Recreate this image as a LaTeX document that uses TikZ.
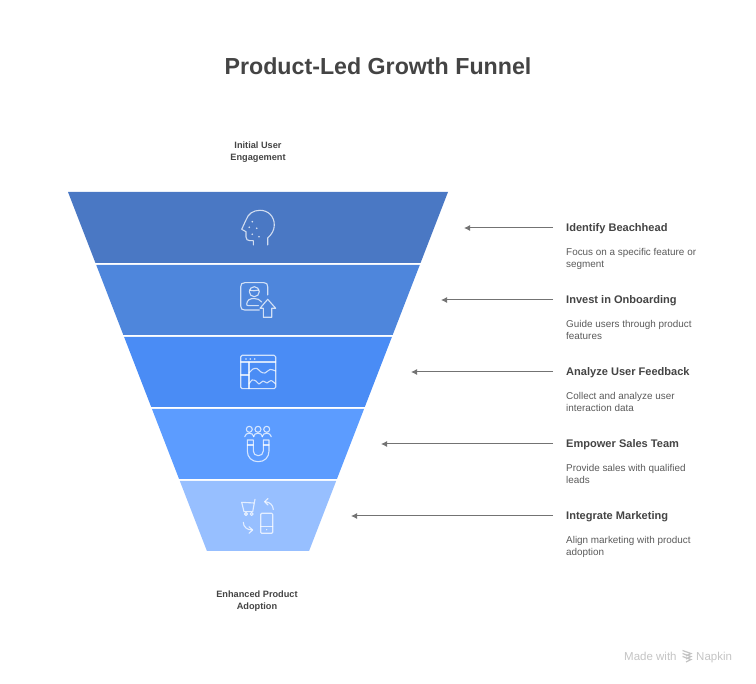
\documentclass[tikz,border=0pt]{standalone}
\usepackage{fontspec}
\setmainfont{Liberation Sans}
\usetikzlibrary{arrows.meta}
\definecolor{inktitle}{HTML}{444444}
\definecolor{inkbody}{HTML}{5A5A5A}
\definecolor{inkmark}{HTML}{C4C4C4}
\definecolor{bandone}{HTML}{4A78C4}
\definecolor{bandtwo}{HTML}{4E86DC}
\definecolor{bandthree}{HTML}{4A8CF5}
\definecolor{bandfour}{HTML}{5C9CFF}
\definecolor{bandfive}{HTML}{97BFFF}
\tikzset{
    funnel title/.style={
        font=\bfseries\fontsize{23.2}{28}\selectfont,
        text=inktitle,
        inner sep=0,
    },
    end label/.style={
        font=\bfseries\fontsize{9.2}{12.3}\selectfont,
        text=inktitle,
        align=center,
        inner sep=0,
    },
    step title/.style={
        font=\bfseries\fontsize{11.05}{14}\selectfont,
        text=inktitle,
        anchor=west,
        inner sep=0,
    },
    step text/.style={
        font=\fontsize{9.9}{12}\selectfont,
        text=inkbody,
        anchor=north west,
        align=left,
        inner sep=0,
    },
    pointer/.style={
        draw=black!55,
        line width=1pt,
        -{Latex[length=6pt,width=6pt]},
    },
    icon line/.style={
        draw=white,
        draw opacity=0.75,
        line width=1.1pt,
        line cap=round,
        line join=round,
    },
    icon dot/.style={
        fill=white,
        fill opacity=0.8,
    },
    footer text/.style={
        font=\fontsize{11.5}{13}\selectfont,
        text=inkmark,
        anchor=base west,
        inner sep=0,
    },
}

\begin{document}
\begin{tikzpicture}[x=1pt,y=-1pt]
    \useasboundingbox (0,0) rectangle (756,684);

    \node[funnel title] (title) at (378,66) {Product-Led Growth Funnel};
    \node[end label] (top label) at (258,152) {Initial User\\Engagement};
    \node[end label] (bottom label) at (257,601) {Enhanced Product\\Adoption};

    % funnel bands
    \foreach \ytop/\ybot/\colr in {192/263/bandone,265/335/bandtwo,337/407/bandthree,409/479/bandfour,481/551/bandfive}
    {
        \fill[\colr] ({68+0.387*(\ytop-192)}, \ytop) -- ({448-0.387*(\ytop-192)}, \ytop)
            -- ({448-0.387*(\ybot-192)}, \ybot) -- ({68+0.387*(\ybot-192)}, \ybot) -- cycle;
    }

    % side labels
    \foreach \n/\y/\xend/\head/\bodytext in {
        1/228/464/Identify Beachhead/{Focus on a specific feature or\\segment},
        2/300/441/Invest in Onboarding/{Guide users through product\\features},
        3/372/411/Analyze User Feedback/{Collect and analyze user\\interaction data},
        4/444/381/Empower Sales Team/{Provide sales with qualified\\leads},
        5/516/351/Integrate Marketing/{Align marketing with product\\adoption}}
    {
        \node[step title] (head\n) at (566,\y+0.5) {\head};
        \node[step text] (body\n) at (566,\y+20.5) {\bodytext};
        \coordinate (start\n) at (553,\y);
        \coordinate (end\n) at (\xend,\y);
        \draw[pointer] (start\n) -- (end\n);
    }

    % head icon
    \draw[icon line] (267.7,245) -- (267.7,238) .. controls (272,234) and (274.3,230) .. (274.3,225)
        .. controls (274.3,216) and (268,210.3) .. (260,210.3)
        .. controls (253,210.3) and (248,214) .. (246,220)
        -- (241.7,229.3) -- (246,231.7) -- (246,237) .. controls (246,239.5) and (247.5,240.7) .. (250,240.7)
        -- (253.3,240.7) -- (253.3,245);
    \foreach \x/\y in {252.3/221.7,249.3/227.3,256.7/228.3,252.3/234.3,259/236.7}
        \fill[icon dot] (\x,\y) circle (0.9);

    % profile icon
    \draw[icon line] (267.7,295) -- (267.7,286.7) .. controls (267.7,284) and (266.5,282.7) .. (264,282.7)
        -- (244.7,282.7) .. controls (242,282.7) and (240.7,284) .. (240.7,286.7)
        -- (240.7,306) .. controls (240.7,308.7) and (242,310) .. (244.7,310) -- (259.3,310);
    \draw[icon line] (254.3,291.7) circle (5);
    \draw[icon line] (249.5,290) .. controls (252,291) and (256,291) .. (259,290);
    \draw[icon line] (258.5,305.7) -- (248.5,305.7) .. controls (247,305.7) and (246.7,305) .. (246.7,304)
        .. controls (247,300) and (250,298.5) .. (254,298.5) .. controls (257,298.5) and (260,299.5) .. (261.7,302);
    \draw[icon line] (267.7,299.3) -- (260,308.3) -- (263.3,308.3) -- (263.3,317.3) -- (271.7,317.3)
        -- (271.7,308.3) -- (275.7,308.3) -- cycle;

    % chart window icon
    \draw[icon line, rounded corners=1.5] (240.7,355.3) rectangle (275.7,388.7);
    \draw[icon line] (240.7,362) -- (275.7,362);
    \draw[icon line] (240.7,375) -- (249,375);
    \draw[icon line] (249,362) -- (249,388.7);
    \foreach \x in {246,250.3,254.7}
        \fill[icon dot] (\x,359) circle (0.9);
    \draw[icon line] plot[smooth] coordinates {(249,373) (253,369) (257,368.5) (261,372) (265,373) (270,369.5) (275.7,371)};
    \draw[icon line] plot[smooth] coordinates {(249,384) (252,380) (256,381) (259,384) (263,381) (267,383) (271,380.5) (275.7,384)};

    % magnet icon
    \foreach \x in {249.3,258,266.7}
    {
        \draw[icon line] (\x,429.3) circle (3);
        \draw[icon line] (\x-4.6,436.7) .. controls (\x-4,434) and (\x-2,433.3) .. (\x,433.3)
            .. controls (\x+2,433.3) and (\x+4,434) .. (\x+4.6,436.7);
    }
    \draw[icon line] (247.3,440) -- (253.3,440) -- (253.3,451) .. controls (253.3,454) and (255.5,455.7) .. (258.3,455.7)
        .. controls (261,455.7) and (263.3,454) .. (263.3,451) -- (263.3,440) -- (269,440) -- (269,451)
        .. controls (269,457.5) and (264.5,461.7) .. (258.2,461.7) .. controls (252,461.7) and (247.3,457.5) .. (247.3,451) -- cycle;
    \draw[icon line] (247.3,445) -- (253.3,445);
    \draw[icon line] (263.3,445) -- (269,445);

    % cart and phone icon
    \draw[icon line] (255,499.3) -- (252.7,511.7) -- (244,511.7) -- (241.7,502.3) -- (254,503);
    \draw[icon line] (246,514) circle (1.5);
    \draw[icon line] (251.7,514) circle (1.5);
    \draw[icon line, rounded corners=1] (260.7,513.3) rectangle (272.7,533.3);
    \draw[icon line] (260.7,526.7) -- (272.7,526.7);
    \fill[icon dot] (266.7,529.7) circle (0.7);
    \draw[icon line] (273.3,509.5) .. controls (273,505) and (270,502) .. (265,501.7);
    \draw[icon line] (268,498.5) -- (264.7,501.7) -- (268,505);
    \draw[icon line] (243.3,522.3) .. controls (243.5,527) and (247,530) .. (252.3,530);
    \draw[icon line] (249,526.7) -- (252.6,530) -- (249,533.3);

    % footer mark
    \node[footer text] (made) at (624,660.5) {Made with};
    \node[footer text] (brand) at (696,660.5) {Napkin};
    \foreach \y in {653,656,659}
        \draw[inkmark, line width=1.2pt] (682.5,\y-2.5) -- (691,\y+0.5) -- (686,\y+3);
\end{tikzpicture}
\end{document}
